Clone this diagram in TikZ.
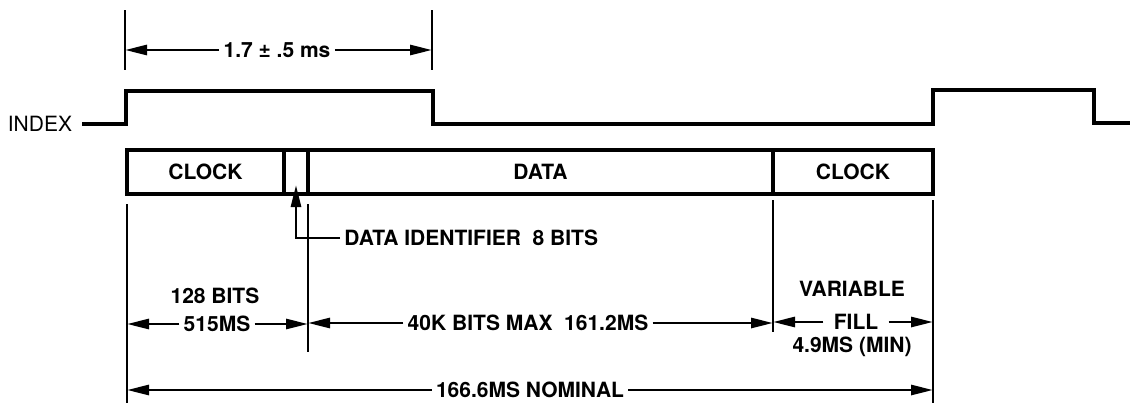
\documentclass[tikz,border=0pt]{standalone}
\usepackage{fontspec}
\setmainfont{TeX Gyre Heros}
\usetikzlibrary{arrows.meta, positioning}

\begin{document}
\begin{tikzpicture}[x=0.5pt, y=-0.5pt,
        font=\fontsize{10.5}{12}\selectfont\bfseries,
        >={Triangle[length=11pt,width=5pt]},
        field/.style={draw, line width=2.2pt, minimum height=22pt, inner sep=0pt, outer sep=0pt},
        wave/.style={line width=2.2pt},
        ext/.style={line width=1.4pt},
        dim/.style={->, line width=1.4pt},
        lbl/.style={inner sep=2pt}]
        \useasboundingbox (0,0) rectangle (1130,403);
        % track fields
        \node[field, minimum width=78.5pt] (clkA) at (205.5,172) {CLOCK};
        \node[field, minimum width=12pt, right=0pt of clkA] (ident) {};
        \node[field, minimum width=232.5pt, right=0pt of ident] (data) {DATA};
        \node[field, minimum width=80pt, right=0pt of data] (clkB) {CLOCK};
        % index pulse
        \node[lbl, font=\fontsize{10.5}{12}\selectfont] (idx) at (40,124) {INDEX};
        \draw[wave] ([xshift=3pt]idx.east) -- (126,124) |- (433,91) |- (933,124)
            |- (1094,90) |- (1130,123);
        \coordinate (tL) at (125,10);
        \coordinate (tR) at (432,10);
        \draw[ext] (tL) -- ++(0,60) (tR) -- ++(0,60);
        \node[lbl] (pulse) at (277,50) {1.7 ± .5 ms};
        % extension lines
        \coordinate (e1) at ([yshift=-5pt]clkA.south west);
        \coordinate (e2) at ([yshift=-5pt]data.south west);
        \coordinate (e3) at ([yshift=-3pt]clkB.south west);
        \coordinate (e4) at ([yshift=-3pt]clkB.south east);
        \draw[ext] (e1) -- ++(0,199) (e2) -- ++(0,148)
            (e3) -- ++(0,132) (e4) -- ++(0,203);
        % labels
        \node[lbl, anchor=west] (tid) at (340,238) {DATA IDENTIFIER\ \ 8 BITS};
        \node[lbl] (t128) at (215,296) {128 BITS};
        \node[lbl] (t515) at (217,324) {515MS};
        \node[lbl] (tdat) at (528,323) {40K BITS MAX\ \ 161.2MS};
        \node[lbl] (tvar) at (852,289) {VARIABLE};
        \node[lbl, inner sep=5pt] (tfill) at (856,322) {FILL};
        \node[lbl] (tmin) at (852,347) {4.9MS (MIN)};
        \node[lbl] (nom) at (530,390) {166.6MS NOMINAL};
        \draw[dim] (tid.west) -| ([yshift=4.5pt]ident.south);
        \path[dim]
        (pulse) edge (pulse -| tL)
        (pulse) edge (pulse -| tR)
        (t515) edge (t515 -| e1)
        (t515) edge (t515 -| e2)
        (tdat) edge (tdat -| e2)
        (tdat) edge (tdat -| e3)
        (tfill) edge (tfill -| e3)
        (tfill) edge (tfill -| e4)
        (nom) edge (nom -| e1)
        (nom) edge (nom -| e4)
        ;
    \end{tikzpicture}
\end{document}
